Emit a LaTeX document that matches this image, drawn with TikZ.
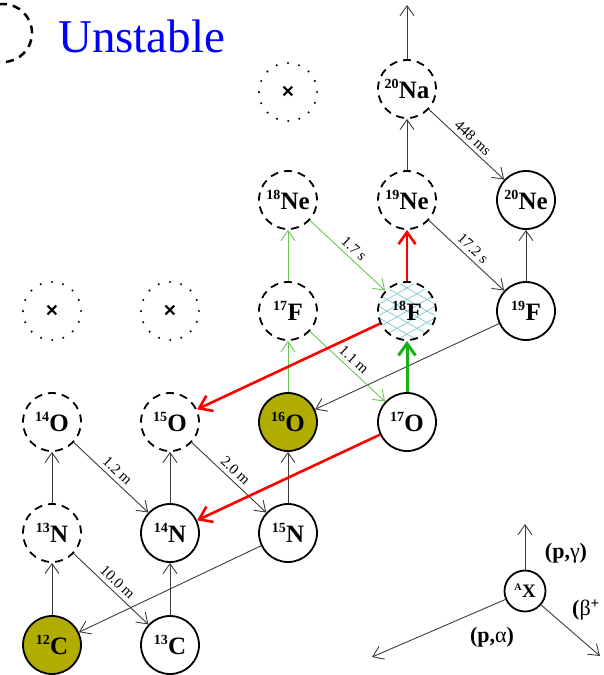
\documentclass[tikz,border=0pt]{standalone}
\usepackage{fontspec}
\setmainfont{Liberation Serif}
\newfontfamily\crossfont{Liberation Sans}
\usetikzlibrary{arrows.meta}

\definecolor{olivefill}{RGB}{176,172,0}
\definecolor{decaygray}{RGB}{60,60,60}
\definecolor{paleflow}{RGB}{105,200,85}
\definecolor{boldflow}{RGB}{25,175,25}
\definecolor{hatchcyan}{RGB}{125,200,205}

% isotope label: mass number as a raised superscript before the element symbol
\newcommand{\isolabel}[2]{{\fontsize{14}{14}\selectfont\raisebox{9.5pt}{#1}}\kern0.3pt#2}
% marker for a nucleus that is not reached
\newcommand{\voidmark}{{\crossfont\fontsize{21}{21}\selectfont\bfseries ×}}

\tikzset{
  nuc/.style={circle, minimum size=58pt, inner sep=0pt, line width=1.8pt,
              font=\fontsize{25}{25}\selectfont\bfseries},
  stable/.style={nuc, draw=black},
  unstable/.style={nuc, draw=black, dash pattern=on 8pt off 6pt, dash phase=0.45pt},
  absent/.style={nuc, draw=black, line width=2.3pt, line cap=round,
                 dash pattern=on 0pt off 11.39pt},
  seed/.style={stable, fill=olivefill},
  flow/.style={draw=decaygray, line width=0.9pt,
               -{Straight Barb[length=10pt,width=14pt]}},
  greenflow/.style={draw=paleflow, line width=0.9pt,
               -{Straight Barb[length=10pt,width=14pt]}},
  greenthick/.style={draw=boldflow, line width=3pt,
               -{Straight Barb[length=12pt,width=17pt]}},
  redthick/.style={draw=red, line width=2.6pt,
               -{Straight Barb[length=12pt,width=17pt]}},
  halflife/.style={sloped, above=4pt, inner sep=0pt,
                   font=\fontsize{15}{15}\selectfont, text=black},
  hatch/.style={draw=hatchcyan, line width=0.7pt},
  chanlabel/.style={font=\fontsize{22}{22}\selectfont\bfseries, inner sep=0pt}
}

\begin{document}
\begin{tikzpicture}[x=1pt, y=-1pt]
\useasboundingbox (0,0) rectangle (603,675);
\clip (0,0) rectangle (603,675);

% legend for unstable nuclei
\node[unstable, line width=2.5pt] (legU) at (3,33) {};
\node[anchor=base west, text=blue, font=\fontsize{47}{47}\selectfont, inner sep=0pt]
  (legtext) at (58,52) {Unstable};

% cross-hatched fill of 18F
\coordinate (f18pos) at (407,311);
\begin{scope}[shift={(f18pos)}]
  \clip (0,0) circle (28pt);
  \foreach \k in {-6,...,6} {
    \draw[hatch, rotate=30] (-50,\k*10) -- (50,\k*10);
    \draw[hatch, rotate=-30] (-50,\k*10) -- (50,\k*10);
  }
\end{scope}

% nuclei
\node[seed]     (C12)  at (52,645)  {\isolabel{12}{C}};
\node[stable]   (C13)  at (170,645) {\isolabel{13}{C}};
\node[unstable] (N13)  at (52,533)  {\isolabel{13}{N}};
\node[stable]   (N14)  at (170,533) {\isolabel{14}{N}};
\node[stable]   (N15)  at (288,533) {\isolabel{15}{N}};
\node[unstable] (O14)  at (52,422)  {\isolabel{14}{O}};
\node[unstable] (O15)  at (170,422) {\isolabel{15}{O}};
\node[seed]     (O16)  at (288,422) {\isolabel{16}{O}};
\node[stable]   (O17)  at (407,422) {\isolabel{17}{O}};
\node[absent]   (V1)   at (52,311)  {\voidmark};
\node[absent]   (V2)   at (170,311) {\voidmark};
\node[unstable] (F17)  at (288,311) {\isolabel{17}{F}};
\node[unstable] (F18)  at (f18pos)  {\isolabel{18}{F}};
\node[stable]   (F19)  at (526,311) {\isolabel{19}{F}};
\node[unstable] (Ne18) at (288,200) {\isolabel{18}{Ne}};
\node[unstable] (Ne19) at (407,200) {\isolabel{19}{Ne}};
\node[stable]   (Ne20) at (526,200) {\isolabel{20}{Ne}};
\node[absent]   (V3)   at (288,92)  {\voidmark};
\node[unstable] (Na20) at (407,89)  {\isolabel{20}{Na}};
\coordinate (breakout) at (407,5);

% CNO / NeNa flows
\draw[flow] (C12) -- (N13);
\draw[flow] (N13) -- (O14);
\draw[flow] (N13) -- node[halflife] {10.0 m} (C13);
\draw[flow] (C13) -- (N14);
\draw[flow] (O14) -- node[halflife] {1.2 m} (N14);
\draw[flow] (N14) -- (O15);
\draw[flow] (O15) -- node[halflife] {2.0 m} (N15);
\draw[flow] (N15) -- (C12);
\draw[flow] (N15) -- (O16);
\draw[flow] (F19) -- (O16);
\draw[flow] (F19) -- (Ne20);
\draw[flow] (Ne19) -- node[halflife] {17.2 s} (F19);
\draw[flow] (Ne19) -- (Na20);
\draw[flow] (Na20) -- node[halflife] {448 ms} (Ne20);
\draw[flow] (Na20) -- (breakout);

\draw[greenflow] (O16) -- (F17);
\draw[greenflow] (F17) -- (Ne18);
\draw[greenflow] (Ne18) -- node[halflife] {1.7 s} (F18);
\draw[greenflow] (F17) -- node[halflife] {1.1 m} (O17);
\draw[greenthick] (O17) -- (F18);

\draw[redthick] (F18) -- (Ne19);
\draw[redthick] (F18) -- (O15);
\draw[redthick] (O17) -- (N14);

% reaction legend
\node[circle, draw=black, line width=1.8pt, minimum size=41pt, inner sep=0pt,
      font=\fontsize{19}{19}\selectfont\bfseries] (AX) at (525,591)
  {{\fontsize{10}{10}\selectfont\raisebox{7pt}{A}}\kern0.5pt X};
\coordinate (pgend) at (525,524);
\coordinate (paend) at (372,657);
\coordinate (bpend) at (600,656);
\draw[flow] (AX) -- (pgend);
\draw[flow] (AX) -- (paend);
\draw[flow] (AX) -- (bpend);
\node[chanlabel] (pglabel) at (566,553) {(p,{\mdseries γ})};
\node[chanlabel] (palabel) at (492,637) {(p,{\mdseries α})};
\node[chanlabel, anchor=west] (bplabel) at (572,610) {({\mdseries β}\textsuperscript{+}};
\end{tikzpicture}
\end{document}
